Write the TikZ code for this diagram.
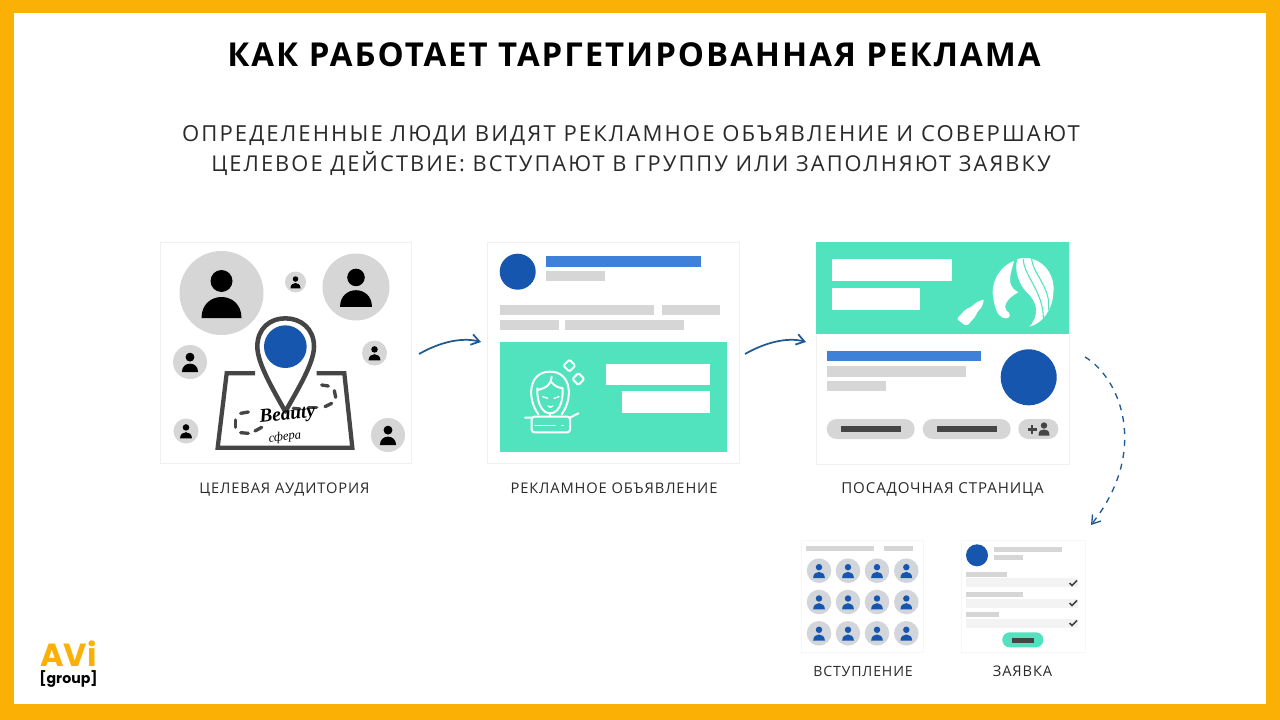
\documentclass[tikz,border=0pt]{standalone}
\usepackage{fontspec}
\usetikzlibrary{fit,arrows.meta,shapes.geometric}
\setmainfont{Open Sans}
\newfontfamily\titlefont[LetterSpace=6,Ligatures=NoCommon]{Open Sans}
\newfontfamily\subfont[LetterSpace=9.5,Ligatures=NoCommon]{Open Sans}
\newfontfamily\capfont[LetterSpace=6,Ligatures=NoCommon]{Open Sans}
\newfontfamily\beautyfont{Liberation Serif}
\newfontfamily\logofont{Poppins}
\definecolor{frameor}{HTML}{FBB006}
\definecolor{teal1}{HTML}{50E3BD}
\definecolor{blue1}{HTML}{1656AE}
\definecolor{blue2}{HTML}{3F80D8}
\definecolor{gray1}{HTML}{D6D6D6}
\definecolor{gray3}{HTML}{D2D5DA}
\definecolor{gray2}{HTML}{F3F3F3}
\definecolor{dark1}{HTML}{454545}
\definecolor{ink}{HTML}{2A2A2A}
\definecolor{arrowblue}{HTML}{1F5A94}
\tikzset{
  card/.style={draw=gray!12,fill=white,line width=.6pt,inner sep=0pt},
  subcard/.style={draw=gray!7,fill=white,line width=.5pt,inner sep=0pt},
  flow/.style={draw=arrowblue,line width=1.3pt,-{Straight Barb[length=6pt,width=8pt]}},
  caplabel/.style={font=\capfont\fontsize{#1}{13}\selectfont,text=ink,inner sep=0pt,anchor=base},
  sublabel/.style={font=\subfont\fontsize{#1}{20}\selectfont,text=ink,inner sep=0pt,anchor=base},
  icon/.style={draw=white,line width=1.5pt,line cap=round,line join=round},
  mapline/.style={draw=dark1,line width=3.2pt,line join=miter},
  dashmark/.style={draw=dark1,line width=2.5pt,line cap=round}
}
% person: x y radius circlecolor personcolor
\newcommand{\persona}[5]{%
  \fill[#4] (#1,#2) circle ({#3});
  \pgfmathsetmacro{\pss}{#3/42}%
  \fill[#5] (#1,{#2-12*\pss}) circle ({11*\pss});
  \fill[#5] ({#1-20*\pss},{#2+25*\pss}) .. controls ({#1-20*\pss},{#2+11*\pss}) and ({#1-10*\pss},{#2+4*\pss}) .. (#1,{#2+4*\pss})
     .. controls ({#1+10*\pss},{#2+4*\pss}) and ({#1+20*\pss},{#2+11*\pss}) .. ({#1+20*\pss},{#2+25*\pss}) -- cycle;
}
\newcommand{\barb}[5]{\fill[#5] (#1,#2) rectangle (#3,#4);}
\begin{document}
\begin{tikzpicture}[x=0.75pt,y=-0.75pt]
\useasboundingbox (0,0) rectangle (1280,720);
\fill[frameor] (0,0) rectangle (1280,720);
\fill[white] (14,13) rectangle (1266,704);

% texts
\node[font=\titlefont\bfseries\fontsize{24.7}{28}\selectfont,text=black,inner sep=0pt,anchor=base] (title) at (634,66.2) {КАК РАБОТАЕТ ТАРГЕТИРОВАННАЯ РЕКЛАМА};
\node[sublabel=16.55] (sub1) at (631,141.7) {ОПРЕДЕЛЕННЫЕ ЛЮДИ ВИДЯТ РЕКЛАМНОЕ ОБЪЯВЛЕНИЕ И СОВЕРШАЮТ};
\node[sublabel=16.35] (sub2) at (631,172) {ЦЕЛЕВОЕ ДЕЙСТВИЕ: ВСТУПАЮТ В ГРУППУ ИЛИ ЗАПОЛНЯЮТ ЗАЯВКУ};

% cards
\node[card,fit={(160,242)(411,463)}] (aud) {};
\node[card,fit={(487,242)(739,463)}] (ad) {};
\node[card,fit={(816,242)(1069,464)}] (land) {};
\node[subcard,fit={(801,540)(923,652)}] (join) {};
\node[subcard,fit={(961,540)(1085,652)}] (form) {};

% labels
\node[caplabel=11] (l1) at (284.5,493.3) {ЦЕЛЕВАЯ АУДИТОРИЯ};
\node[caplabel=11] (l2) at (614,493.3) {РЕКЛАМНОЕ ОБЪЯВЛЕНИЕ};
\node[caplabel=11.3] (l3) at (942.5,493.3) {ПОСАДОЧНАЯ СТРАНИЦА};
\node[caplabel=10.6] (l4) at (863,676.7) {ВСТУПЛЕНИЕ};
\node[caplabel=11] (l5) at (1022.5,676.7) {ЗАЯВКА};

% audience card
\persona{221.5}{293}{42}{gray1}{black}
\persona{356}{287}{33.5}{gray1}{black}
\persona{295.5}{282}{10.5}{gray1}{black}
\persona{190}{362}{17}{gray1}{black}
\persona{374.5}{353}{12.5}{gray1}{black}
\persona{186}{431}{12.5}{gray1}{black}
\persona{388}{435}{17}{gray1}{black}
\begin{scope}[shift={(150,230)},x=0.25pt,y=-0.25pt]
  \draw[mapline] (315,430) -- (230,430) -- (203,653) -- (607,653) -- (583,430) -- (500,430);
  \foreach \a/\b/\c/\d in {515/465/535/468,553/482/557/502,545/520/525/530,500/533/475/533,450/537/430/535,295/546/272/550,257/570/257/592,272/608/295/610,315/603/335/592}
    \draw[dashmark] (\a,\b) -- (\c,\d);
  \draw[draw=dark1,line width=3.4pt,line join=round] (406,545) .. controls (370,480) and (322,400) .. (322,350) .. controls (322,295) and (360,265) .. (406,265) .. controls (452,265) and (492,295) .. (492,350) .. controls (492,400) and (442,480) .. (406,545) -- cycle;
  \fill[blue1] (406,350) circle (64);
  \node[font=\beautyfont\itshape\bfseries\fontsize{14.5}{16}\selectfont,text=black,rotate=6,inner sep=0pt] (beauty) at (412,556) {Beauty};
  \node[font=\beautyfont\itshape\fontsize{9.5}{11}\selectfont,text=black,rotate=6,inner sep=0pt] (sfera) at (405,622) {сфера};
\end{scope}

% ad card
\fill[blue1] (517.7,271.7) circle (18);
\barb{546}{256.3}{700.7}{266.7}{blue2}
\barb{546}{271}{605}{281}{gray1}
\barb{500}{305}{654.3}{315}{gray1}
\barb{661.7}{305}{720.3}{315}{gray1}
\barb{500}{320}{559.3}{330}{gray1}
\barb{565.3}{320}{684}{330}{gray1}
\barb{500}{341.7}{727}{451.7}{teal1}
\barb{606}{364}{710}{385}{white}
\barb{622.3}{391.3}{710}{412.7}{white}
\begin{scope}[shift={(480,235)},x=0.25pt,y=-0.25pt]
  \draw[icon] (175,538) .. controls (140,490) and (145,410) .. (210,410) .. controls (275,410) and (280,490) .. (245,538);
  \draw[icon] (172,460) .. controls (170,510) and (190,535) .. (210,535) .. controls (232,535) and (250,510) .. (248,460);
  \draw[icon] (172,465) .. controls (200,460) and (215,445) .. (215,425);
  \draw[icon] (215,442) .. controls (222,452) and (235,458) .. (248,460);
  \draw[icon,line width=1pt] (188,485) -- (203,490) (222,490) -- (237,485) (204,513) .. controls (208,518) and (214,518) .. (218,513);
  \draw[icon,rounded corners=2pt] (155,545) rectangle (270,592);
  \draw[icon,line width=1pt] (165,572) -- (225,572) (245,572) -- (250,572);
  \draw[icon] (155,548) -- (135,548) (270,548) -- (295,535) (210,535) -- (210,545);
  \draw[icon,rounded corners=1pt] (268,374) -- (286,392) -- (268,410) -- (250,392) -- cycle;
  \draw[icon,rounded corners=1pt] (295,414) -- (313,432) -- (295,450) -- (277,432) -- cycle;
\end{scope}

% landing card
\barb{816}{242}{1069}{334}{teal1}
\barb{832}{259.3}{951.7}{281}{white}
\barb{832}{288.3}{919.7}{309.7}{white}
\begin{scope}[shift={(810,235)},x=0.25pt,y=-0.25pt]
  \fill[white] (612,78) .. controls (565,95) and (540,150) .. (550,190) .. controls (555,225) and (565,250) .. (590,250) .. controls (605,248) and (600,232) .. (590,228) .. controls (578,215) and (590,190) .. (625,172) .. controls (610,165) and (598,150) .. (600,130) .. controls (602,110) and (608,95) .. (612,78) -- cycle;
  \fill[white] (622,72) .. controls (690,55) and (738,115) .. (730,175) .. controls (728,220) and (700,265) .. (658,275) .. controls (690,240) and (682,200) .. (650,172) .. controls (625,145) and (612,105) .. (622,72) -- cycle;
  \draw[teal1,line width=.8pt] (640,72) .. controls (640,120) and (700,170) .. (700,250);
  \draw[teal1,line width=.8pt] (665,72) .. controls (670,120) and (725,160) .. (715,225);
  \fill[white,rounded corners=1.5pt] (440,252) -- (468,222) -- (488,214) -- (495,204) -- (523,192) -- (514,220) -- (503,228) -- (498,242) -- (470,274) -- cycle;
\end{scope}
\barb{826.7}{350.7}{981.3}{361.3}{blue2}
\barb{826.7}{366.3}{966}{376.7}{gray1}
\barb{826.7}{380.7}{886}{390.7}{gray1}
\fill[blue1] (1028.7,377.3) circle (28);
\fill[gray1,rounded corners=7.4pt] (826.7,419) rectangle (914.7,439);
\fill[gray1,rounded corners=7.4pt] (922.7,419) rectangle (1010.7,439);
\fill[gray1,rounded corners=7.4pt] (1018.3,419) rectangle (1058.3,439);
\barb{841}{426.3}{900.7}{431.7}{dark1}
\barb{937}{426.3}{996.7}{431.7}{dark1}
\draw[dark1,line width=1.6pt] (1027.5,429.5) -- (1037,429.5) (1032.2,425) -- (1032.2,434);
\fill[dark1] (1044,425.5) circle (3.2);
\fill[dark1] (1038.5,435.5) .. controls (1038.5,430.5) and (1041,429.5) .. (1044,429.5) .. controls (1047,429.5) and (1049.5,430.5) .. (1049.5,435.5) -- cycle;

% join card
\barb{805.7}{545.7}{874.3}{550.7}{gray1}
\barb{884}{545.7}{913}{550.7}{gray1}
\foreach \px in {819,848,877,906.3}
  \foreach \py in {570.7,602,633.3} {
    \persona{\px}{\py}{12.3}{gray3}{blue1}
  }

% form card
\fill[blue1] (977,555.3) circle (11);
\barb{993.7}{546.7}{1062.3}{552}{gray1}
\barb{993.7}{554.7}{1022.7}{560}{gray1}
\barb{966.3}{571.7}{1006.7}{577}{gray1}
\barb{966}{578}{1078}{587}{gray2}
\barb{966}{592}{1022.7}{597.3}{gray1}
\barb{966}{598.7}{1078}{607.7}{gray2}
\barb{966}{612}{998.7}{617.3}{gray1}
\barb{966}{619.3}{1078}{628.3}{gray2}
\foreach \cy in {583,603,623}
  \draw[dark1,line width=1.1pt] (1069.5,\cy) -- (1072,\cy+2.5) -- (1077,\cy-2.5);
\fill[teal1,rounded corners=5.5pt] (1002.3,632.3) rectangle (1043.3,647.3);
\barb{1012.3}{637.7}{1033.7}{642.7}{dark1}

% connectors
\coordinate (a1) at (419,354);
\coordinate (a2) at (481,342);
\coordinate (b1) at (745,354);
\coordinate (b2) at (806,342);
\coordinate (c1) at (1085,357);
\coordinate (c2) at (1091,525);
\draw[flow] (a1) .. controls (440,342) and (462,337) .. (a2);
\draw[flow] (b1) .. controls (766,342) and (788,337) .. (b2);
\draw[flow,dashed,dash pattern=on 4.5pt off 4.5pt,line width=1pt] (c1) .. controls (1120,378) and (1150,450) .. (c2);

% logo
\node[font=\logofont\bfseries\fontsize{24}{26}\selectfont,text=frameor,inner sep=0pt,anchor=base] (logoa) at (68.5,666) {AVi};
\node[font=\logofont\bfseries\fontsize{10.6}{12}\selectfont,text=black,inner sep=0pt,anchor=base] (logob) at (68.5,683) {[group]};
\end{tikzpicture}
\end{document}
